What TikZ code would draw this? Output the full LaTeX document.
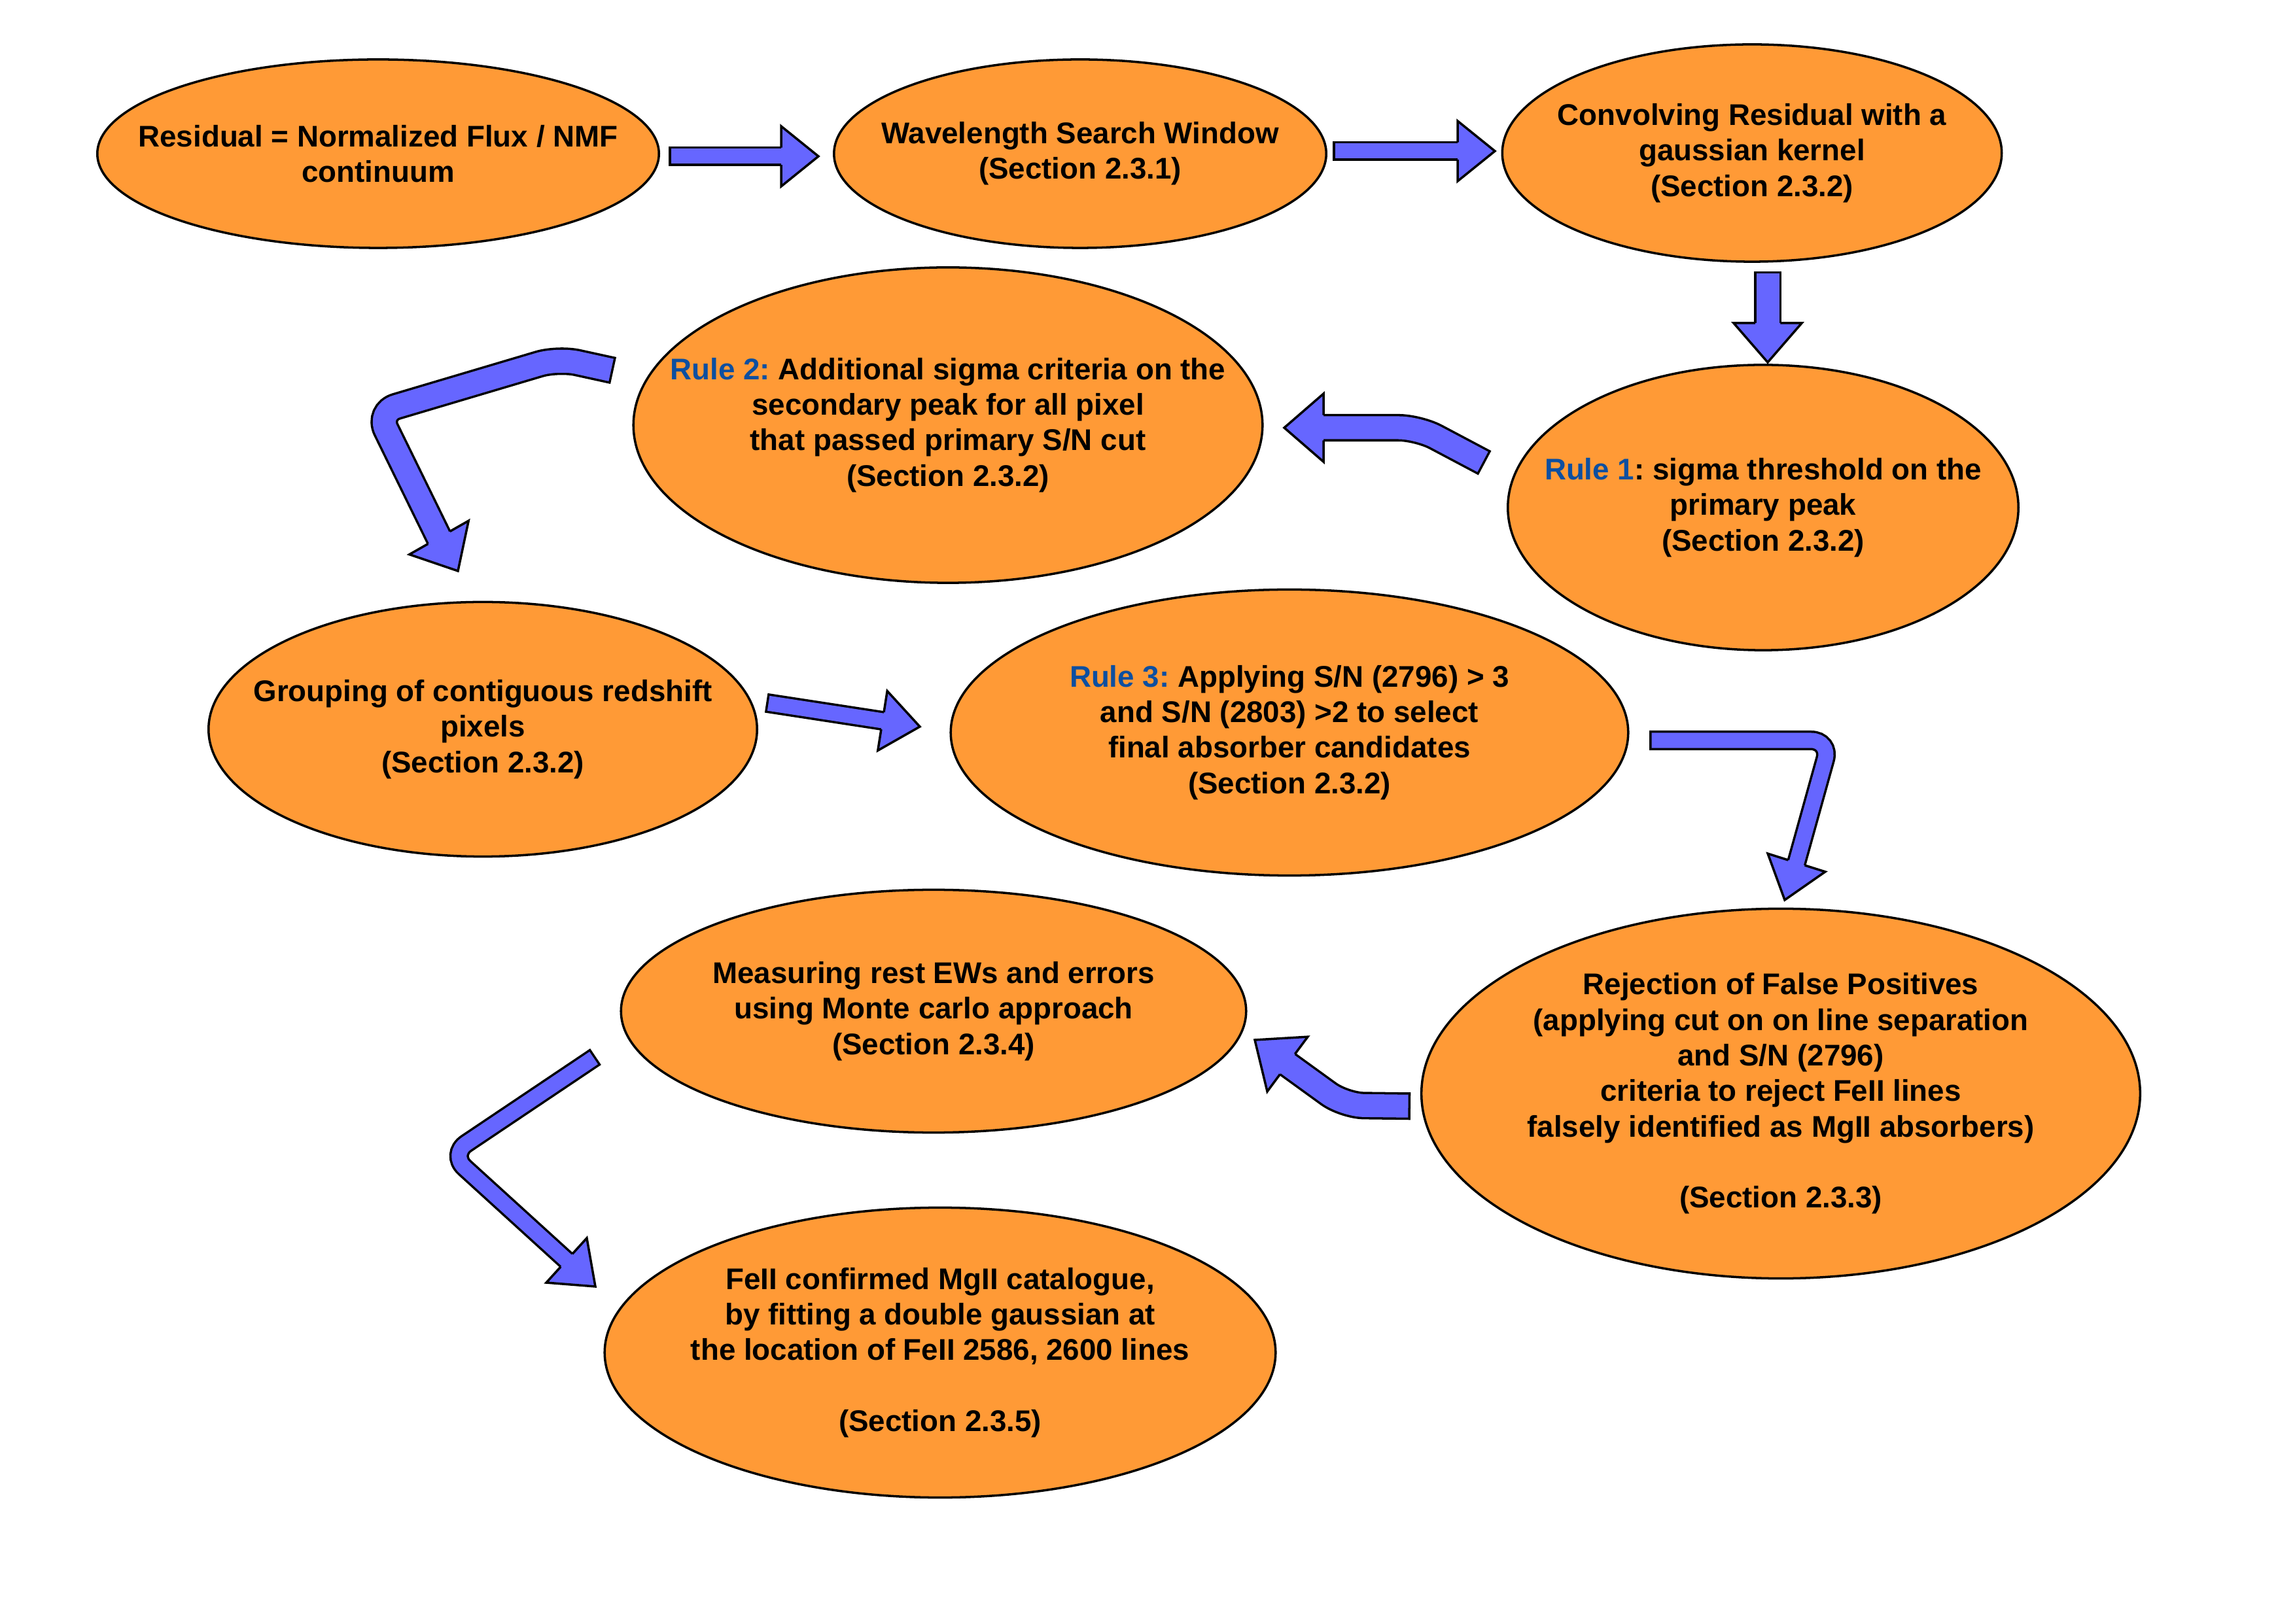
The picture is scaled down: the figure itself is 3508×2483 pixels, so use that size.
\documentclass[tikz,border=0pt]{standalone}
\usepackage{fontspec}
\setmainfont{Liberation Sans}
\usetikzlibrary{shapes.geometric, calc}
\definecolor{stagefill}{HTML}{FF9A36}
\definecolor{arrowfill}{HTML}{6666FF}
\definecolor{ruleblue}{HTML}{0D4FA0}

\tikzset{
  stage/.style={ellipse, draw=black, line width=1pt, fill=stagefill, inner sep=-2cm, align=center,
    font=\bfseries\frenchspacing\fontsize{13}{15.44}\selectfont},
  thinshaft/.style={draw=black, line width=1pt, double=arrowfill, double distance=0.23cm, line cap=rect, rounded corners=0.3cm},
  thickshaft/.style={draw=black, line width=1pt, double=arrowfill, double distance=0.35cm, line cap=rect, rounded corners=0.3cm},
  arrowtip/.style={draw=black, fill=arrowfill, line width=1pt, line join=miter},
}
% head of a block arrow: base, tip, half width of head, half width of shaft
\newcommand{\blockhead}[4]{%
  \filldraw[arrowtip] ($(#1)!#4!90:(#2)$) -- ($(#1)!#3!90:(#2)$) -- (#2)
    -- ($(#1)!#3!-90:(#2)$) -- ($(#1)!#4!-90:(#2)$);
}

\begin{document}
\begin{tikzpicture}[x=0.01cm, y=-0.01cm]
  \useasboundingbox (0,0) rectangle (3508,2483);

  \node[stage, minimum width=8.58cm, minimum height=2.88cm] (res) at (578,235) {Residual = Normalized Flux / NMF\\continuum};
  \node[stage, minimum width=7.52cm, minimum height=2.88cm] (win) at (1651,235) {Wavelength Search Window\\(Section 2.3.1)};
  \node[stage, minimum width=7.63cm, minimum height=3.32cm] (conv) at (2678,234) {Convolving Residual with a\\gaussian kernel\\(Section 2.3.2)};
  \node[stage, minimum width=9.61cm, minimum height=4.82cm] (rule2) at (1449,650) {{\color{ruleblue}Rule 2:} Additional sigma criteria on the\\secondary peak for all pixel\\that passed primary S/N cut\\(Section 2.3.2)};
  \node[stage, minimum width=7.80cm, minimum height=4.36cm] (rule1) at (2695,776) {{\color{ruleblue}Rule 1}: sigma threshold on the\\primary peak\\(Section 2.3.2)};
  \node[stage, minimum width=8.38cm, minimum height=3.89cm] (group) at (738,1115) {Grouping of contiguous redshift\\pixels\\(Section 2.3.2)};
  \node[stage, minimum width=10.35cm, minimum height=4.37cm] (rule3) at (1971,1120) {{\color{ruleblue}Rule 3:} Applying S/N (2796) > 3\\and S/N (2803) >2  to select\\final absorber candidates\\(Section 2.3.2)};
  \node[stage, minimum width=10.98cm, minimum height=5.65cm] (reject) at (2722,1672) {Rejection of False Positives\\(applying cut on on line separation\\and S/N (2796)\\criteria to reject FeII lines\\falsely identified as MgII absorbers)\\[15.44pt](Section 2.3.3)};
  \node[stage, minimum width=9.55cm, minimum height=3.71cm] (meas) at (1427,1546) {Measuring rest EWs and errors\\using Monte carlo approach\\(Section 2.3.4)};
  \node[stage, minimum width=10.25cm, minimum height=4.43cm] (feii) at (1437,2068) {FeII confirmed MgII catalogue,\\by fitting a double gaussian at\\the location of FeII 2586, 2600 lines\\[15.44pt](Section 2.3.5)};

  % arrow points
  \coordinate (a1-s) at (1037,239);  \coordinate (a1-b) at (1194,239);  \coordinate (a1-t) at (1251,239);
  \coordinate (a2-s) at (2052,231);  \coordinate (a2-b) at (2228,231);  \coordinate (a2-t) at (2285,231);
  \coordinate (a3-s) at (2702,436);  \coordinate (a3-b) at (2702,494);  \coordinate (a3-t) at (2702,554);
  \coordinate (a4-s) at (2251,698);  \coordinate (a4-k) at (2168,654);
  \coordinate (a4-b) at (2023,654);  \coordinate (a4-t) at (1963,654);
  \coordinate (a5-s) at (917,562);   \coordinate (a5-k) at (853,548);   \coordinate (a5-c) at (577,630);
  \coordinate (a5-b) at (671,822);   \coordinate (a5-t) at (700,873);
  \coordinate (a6-s) at (1186,1077); \coordinate (a6-b) at (1349,1102); \coordinate (a6-t) at (1406,1111);
  \coordinate (a7-s) at (2536,1132); \coordinate (a7-c) at (2798,1132);
  \coordinate (a7-b) at (2746,1319); \coordinate (a7-t) at (2728,1376);
  \coordinate (a8-s) at (2135,1691); \coordinate (a8-k) at (2055,1690);
  \coordinate (a8-b) at (1968,1627); \coordinate (a8-t) at (1918,1590);
  \coordinate (a9-s) at (898,1624);  \coordinate (a9-c) at (688,1765);
  \coordinate (a9-b) at (866,1927);  \coordinate (a9-t) at (910,1967);

  \draw[thinshaft] (a1-s) -- (a1-b);
  \blockhead{a1-b}{a1-t}{0.46cm}{0.1325cm}
  \draw[thinshaft] (a2-s) -- (a2-b);
  \blockhead{a2-b}{a2-t}{0.46cm}{0.1325cm}
  \draw[thickshaft] (a3-s) -- (a3-b);
  \blockhead{a3-b}{a3-t}{0.52cm}{0.1925cm}
  \draw[thickshaft] (a4-s) -- (a4-k) -- (a4-b);
  \blockhead{a4-b}{a4-t}{0.52cm}{0.1925cm}
  \draw[thickshaft] (a5-s) -- (a5-k) -- (a5-c) -- (a5-b);
  \blockhead{a5-b}{a5-t}{0.52cm}{0.1925cm}
  \draw[thinshaft] (a6-s) -- (a6-b);
  \blockhead{a6-b}{a6-t}{0.46cm}{0.1325cm}
  \draw[thinshaft] (a7-s) -- (a7-c) -- (a7-b);
  \blockhead{a7-b}{a7-t}{0.46cm}{0.1325cm}
  \draw[thickshaft] (a8-s) -- (a8-k) -- (a8-b);
  \blockhead{a8-b}{a8-t}{0.52cm}{0.1925cm}
  \draw[thinshaft] (a9-s) -- (a9-c) -- (a9-b);
  \blockhead{a9-b}{a9-t}{0.46cm}{0.1325cm}
\end{tikzpicture}
\end{document}
